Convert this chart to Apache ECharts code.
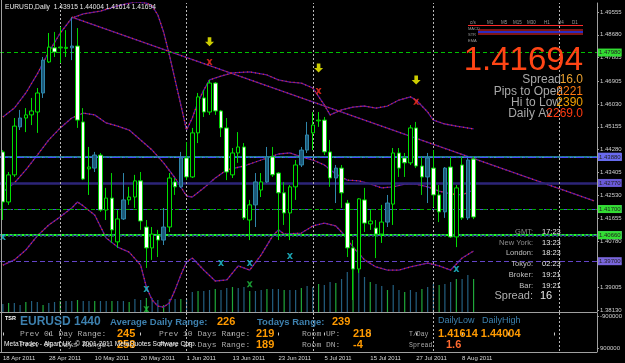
<!DOCTYPE html>
<html><head><meta charset="utf-8">
<script src="https://cdn.jsdelivr.net/npm/echarts@6/dist/echarts.min.js"></script>
<style>html,body{margin:0;padding:0;background:#000;}#c{width:625px;height:363px;}</style>
</head><body><div id="c"></div><script>
// ---------- DATA ----------
const dates = ['18 Apr 2011','19 Apr 2011','20 Apr 2011','21 Apr 2011','22 Apr 2011','25 Apr 2011','26 Apr 2011','27 Apr 2011','28 Apr 2011','29 Apr 2011',
'2 May 2011','3 May 2011','4 May 2011','5 May 2011','6 May 2011','9 May 2011','10 May 2011','11 May 2011','12 May 2011','13 May 2011','16 May 2011','17 May 2011','18 May 2011','19 May 2011','20 May 2011','23 May 2011','24 May 2011','25 May 2011','26 May 2011','27 May 2011','30 May 2011','31 May 2011',
'1 Jun 2011','2 Jun 2011','3 Jun 2011','6 Jun 2011','7 Jun 2011','8 Jun 2011','9 Jun 2011','10 Jun 2011','13 Jun 2011','14 Jun 2011','15 Jun 2011','16 Jun 2011','17 Jun 2011','20 Jun 2011','21 Jun 2011','22 Jun 2011','23 Jun 2011','24 Jun 2011','27 Jun 2011','28 Jun 2011','29 Jun 2011','30 Jun 2011',
'1 Jul 2011','4 Jul 2011','5 Jul 2011','6 Jul 2011','7 Jul 2011','8 Jul 2011','11 Jul 2011','12 Jul 2011','13 Jul 2011','14 Jul 2011','15 Jul 2011','18 Jul 2011','19 Jul 2011','20 Jul 2011','21 Jul 2011','22 Jul 2011','25 Jul 2011','26 Jul 2011','27 Jul 2011','28 Jul 2011','29 Jul 2011',
'1 Aug 2011','2 Aug 2011','3 Aug 2011','4 Aug 2011','5 Aug 2011','8 Aug 2011','9 Aug 2011','10 Aug 2011'];
const emptySlots = 21; // chart shift area to the right of the last bar

const openP  = [1.4419,1.4227,1.4331,1.4515,1.4549,1.4561,1.4572,1.4645,1.4764,1.4818,1.4818,1.4816,1.4818,1.4825,1.4534,1.4354,1.4357,1.4407,1.4196,1.4242,1.4074,1.4162,1.4235,1.4246,1.4308,1.4131,1.4051,1.4100,1.4081,1.4131,1.4304,1.4285,1.4396,1.4323,1.4492,1.4626,1.4572,1.4683,1.4576,1.4511,1.4331,1.4415,1.4438,1.4158,1.4216,1.4273,1.4304,1.4400,1.4338,1.4262,1.4185,1.4285,1.4369,1.4426,1.4492,1.4538,1.4541,1.4419,1.4319,1.4357,1.4223,1.4051,1.3970,1.4235,1.4143,1.4127,1.4104,1.4150,1.4219,1.4415,1.4396,1.4377,1.4511,1.4365,1.4323,1.4357,1.4254,1.4189,1.4361,1.4093,1.4369,1.4166,1.43915];
const closeP = [1.4227,1.4331,1.4518,1.4549,1.4561,1.4576,1.4645,1.4771,1.4821,1.4802,1.4821,1.4820,1.4825,1.4541,1.4315,1.4361,1.4407,1.4196,1.4242,1.4120,1.4162,1.4235,1.4246,1.4308,1.4154,1.4051,1.4104,1.4081,1.4131,1.4319,1.4285,1.4396,1.4323,1.4492,1.4630,1.4572,1.4683,1.4576,1.4511,1.4342,1.4415,1.4438,1.4166,1.4216,1.4304,1.4304,1.4400,1.4331,1.4262,1.4185,1.4285,1.4369,1.4426,1.4484,1.4522,1.4541,1.4419,1.4319,1.4357,1.4262,1.4051,1.3970,1.4239,1.4146,1.4154,1.4104,1.4150,1.4223,1.4415,1.4357,1.4377,1.4511,1.4365,1.4323,1.4396,1.4254,1.4189,1.4357,1.4093,1.4281,1.4166,1.4388,1.41694];
const lowP   = [1.4158,1.4216,1.4323,1.4503,1.4495,1.4522,1.4492,1.4626,1.4760,1.4783,1.4760,1.4783,1.4771,1.4511,1.4311,1.4254,1.4342,1.4189,1.4158,1.4070,1.4051,1.4158,1.4216,1.4204,1.4120,1.3974,1.4005,1.4016,1.4062,1.4112,1.4254,1.4281,1.4311,1.4319,1.4453,1.4553,1.4561,1.4561,1.4476,1.4311,1.4319,1.4377,1.4158,1.4081,1.4131,1.4246,1.4300,1.4323,1.4081,1.4139,1.4081,1.4235,1.4361,1.4415,1.4426,1.4515,1.4407,1.4285,1.4223,1.4204,1.4016,1.3851,1.3955,1.4112,1.4120,1.4012,1.4070,1.4131,1.4139,1.4323,1.4323,1.4369,1.4357,1.4254,1.4223,1.4208,1.4150,1.4166,1.4089,1.4054,1.4158,1.4158,1.41614];
const highP  = [1.4426,1.4342,1.4549,1.4580,1.4587,1.4626,1.4664,1.4783,1.4875,1.4879,1.4898,1.4886,1.4936,1.4894,1.4587,1.4438,1.4419,1.4415,1.4281,1.4338,1.4196,1.4338,1.4285,1.4331,1.4342,1.4158,1.4131,1.4120,1.4204,1.4338,1.4319,1.4419,1.4457,1.4511,1.4645,1.4656,1.4695,1.4687,1.4580,1.4549,1.4434,1.4495,1.4453,1.4235,1.4338,1.4338,1.4438,1.4438,1.4342,1.4304,1.4292,1.4388,1.4438,1.4534,1.4572,1.4572,1.4553,1.4465,1.4369,1.4369,1.4235,1.4081,1.4242,1.4281,1.4196,1.4158,1.4216,1.4254,1.4434,1.4434,1.4415,1.4522,1.4534,1.4400,1.4415,1.4426,1.4292,1.4361,1.4400,1.4292,1.4400,1.4396,1.44004];
const tealBars = [3,7,12,16,21,28,31,44,46,52,53,58,67,74,77,81];
const volumes = [8000,9000,9000,7000,10000,11000,10000,7000,9000,10000,11000,11000,11000,12000,11000,11000,11000,11000,11000,11000,11000,11000,10000,13000,12000,14000,14000,12000,7000,13000,13000,13000,13000,20000,21000,21000,22000,23000,22000,24000,25000,24000,25000,21000,21000,22000,23000,23000,23000,22000,22000,22000,
24000,26000,25000,28000,27000,30000,29000,33000,40000,45000,42000,35000,30000,28000,26000,
22000,27000,22000,20000,22000,20000,23000,25000,28000,27000,28000,30000,33000,33000,37000,33000];

const upperBand = [[0,1.4553],[2,1.4587],[4,1.4645],[6,1.4718],[8,1.4802],[10,1.4875],[12,1.4932],[14,1.4948],[17,1.4959],[20,1.4979],[23,1.4994],[25,1.4990],[26,1.4979],[27,1.4944],[28,1.4879],[29,1.4791],[30,1.4695],[31,1.4599],[32,1.4503],[33,1.4549],[34,1.4611],[35,1.4656],[36,1.4695],[38,1.4710],[40,1.4722],[43,1.4726],[46,1.4714],[48,1.4695],[50,1.4687],[52,1.4683],[54,1.4664],[56,1.4599],[57,1.4561],[59,1.4580],[61,1.4591],[63,1.4595],[65,1.4587],[67,1.4595],[69,1.4618],[71,1.4630],[72,1.4618],[74,1.4572],[75,1.4541],[77,1.4526],[79,1.4518],[82,1.4507]];
const midBand = [[0,1.4265],[2,1.4300],[4,1.4350],[6,1.4407],[8,1.4465],[10,1.4511],[12,1.4549],[14,1.4568],[16,1.4561],[18,1.4530],[20,1.4518],[22,1.4503],[24,1.4465],[26,1.4426],[28,1.4377],[30,1.4319],[32,1.4250],[33,1.4246],[35,1.4281],[37,1.4319],[39,1.4350],[42,1.4365],[45,1.4388],[48,1.4411],[50,1.4415],[52,1.4400],[54,1.4388],[56,1.4369],[58,1.4334],[60,1.4311],[62,1.4308],[64,1.4296],[66,1.4281],[68,1.4285],[70,1.4296],[72,1.4296],[74,1.4285],[76,1.4269],[78,1.4258],[80,1.4254],[82,1.4273]];
const lowerBand = [[0,1.3985],[2,1.4005],[4,1.4043],[6,1.4097],[8,1.4139],[10,1.4170],[12,1.4204],[13,1.4227],[14,1.4212],[16,1.4177],[18,1.4089],[20,1.4054],[22,1.4035],[24,1.3985],[25,1.3901],[26,1.3851],[27,1.3828],[28,1.3824],[29,1.3840],[30,1.3890],[31,1.3947],[32,1.3997],[33,1.4012],[35,1.3966],[37,1.3924],[39,1.3928],[41,1.3982],[43,1.3966],[45,1.4024],[47,1.4097],[48,1.4120],[49,1.4104],[52,1.4108],[54,1.4135],[56,1.4146],[58,1.4135],[59,1.4112],[61,1.4054],[63,1.4005],[65,1.3978],[67,1.3966],[69,1.3966],[71,1.3978],[74,1.3993],[76,1.3982],[78,1.3966],[80,1.4012],[82,1.4039]];
const trendLine = [[12,1.4936],[103,1.4231]];
const fractalArrows = [[36,1.4841],[55,1.4741],[72,1.4695]];
const fractalMarks = [[36,1.4764],[55,1.4653],[72,1.4611]];
const cyanMarks = [[0,1.4093],[25,1.3893],[38,1.3993],[43,1.3993],[50,1.4020],[79,1.3970]];
const greenMarks = [[25,1.3816],[43,1.3912]];
const monthStarts = [10,32,54,75,97];
const levelPrices = [1.4798,1.4434,1.4411,1.4403,1.4388,1.4277,1.4246,1.4170,1.4127,1.4081,1.4066,1.3970];
const priceTicks = [1.49555,1.48680,1.47805,1.46905,1.46030,1.45155,1.44280,1.43405,1.42530,1.41655,1.40780,1.39905,1.39005,1.38130];
const tsrTicks = [-900000,900000];

const header = 'EURUSD,Daily  1.43915 1.44004 1.41614 1.41694';
const lastPrice = '1.41694';
const infoLabels = ['Spread','Pips to Open','Hi to Low','Daily Av'];
const infoValues = ['16.0','2221','2390','2269.0'];
const clockLabels = ['GMT:','New York:','London:','Tokyo:','Broker:','Bar:'];
const clockValues = ['17:23','13:23','18:23','02:23','19:21','19:21'];
const spreadValue = '16';
const mtfHeads = ['c/s','M1','M5','M15','M30','H1','H4','D1'];
const mtfRows = ['MACD','STR','EMA'];

// ---------- STYLES ----------
const levelStyles = [
 {color:'#00c000',width:1,type:[4,3]},
 {color:'#9050d0',width:1,type:[6,4]},
 {color:'#30a8c8',width:1.5,type:'solid'},
 {color:'#207888',width:2,type:[2,2]},
 {color:'#4a4aff',width:1,type:[8,3,2,3]},
 {color:'#2c2478',width:2.5,type:'solid'},
 {color:'#5a48d8',width:1,type:[8,3,2,3]},
 {color:'#00a800',width:1,type:[4,3]},
 {color:'#20ff20',width:2,type:'solid'},
 {color:'#5a44d8',width:1,type:[5,3]},
 {color:'#1d6464',width:2.5,type:[2,2]},
 {color:'#6444c8',width:1,type:[5,3]}
];
const levelBoxes = [ '#33dd33', '#9a66dd', '#4a7ae0', null, '#6a6af0', '#6a5ad8', '#6a5ad8', '#33dd33', '#33dd33', '#6a5ad8', '#33dd33', '#7a66dd'];

const xCats = dates.concat(new Array(emptySlots).fill(''));
const candleData = openP.map((o,i)=>{
  const item = {value:[o, closeP[i], lowP[i], highP[i]]};
  if (tealBars.indexOf(i) >= 0) item.itemStyle = {color:'#1c5878', borderColor:'#2f86aa'};
  return item;
});
const volData = volumes.map((v,i)=>({value:v, itemStyle:{color: (i%3===1) ? '#1fa83a' : '#235f80'}}));

function bandSeries(data){
  return [
    {type:'line', xAxisIndex:0, yAxisIndex:0, data, symbol:'none', lineStyle:{color:'#5416a4', width:1.3}, z:3, silent:true},
    {type:'line', xAxisIndex:0, yAxisIndex:0, data, symbol:'none', lineStyle:{color:'#ff3a10', width:1.2, type:[1,3]}, z:4, silent:true}
  ];
}
const crossPath = 'path://M0,0L3,0L5,2.5L7,0L10,0L6.5,5L10,10L7,10L5,7.5L3,10L0,10L3.5,5Z';
const arrowPath = 'path://M3,0L7,0L7,5L10,5L5,10L0,5L3,5Z';

const F = 'Liberation Sans, Arial, sans-serif';
const M = 'Liberation Mono, Courier New, monospace';
const graphics = [];
function txt(x,y,text,fill,font,align){ graphics.push({type:'text', x, y, silent:true, z:100, style:{text, fill, font, textAlign: align||'left', textVerticalAlign:'middle'}}); }
function hl(x1,x2,y,stroke,w){ graphics.push({type:'line', silent:true, z:90, shape:{x1,y1:y,x2,y2:y}, style:{stroke, lineWidth:w||1}}); }
function vl(x,y1,y2,stroke,w){ graphics.push({type:'line', silent:true, z:90, shape:{x1:x,y1,x2:x,y2}, style:{stroke, lineWidth:w||1}}); }

// frame
vl(1.5,0,352,'#a0a0a0',1);
hl(0,597,312.5,'#a0a0a0',1);
hl(0,597,352.5,'#a0a0a0',1);
// header
txt(5,7.5,header,'#e8e8e8','6.7px '+F);
// MTF panel
const mtfX = [470,487,501,513,527,544,558,572];
mtfHeads.forEach((h,i)=>txt(mtfX[i],23,h,'#9a9a9a','4.5px '+F));
mtfRows.forEach((r,i)=>txt(468,[29,35,41][i],r,'#9a9a9a','4px '+F));
hl(468,583,25.5,'#ff2a2a',1);
hl(478,583,30,'#ff2a2a',1);
hl(478,583,32,'#3a3aff',1.5);
hl(478,583,34,'#ff2a2a',1);
// big price & info
txt(583,61,lastPrice,'#ff4515','33px '+F,'right');
const infoY = [80,92,103,114];
const infoLabelRight = [561,563,561,552];
const infoColors = ['#eaa030','#ff7a10','#f0a000','#ff3a10'];
infoLabels.forEach((l,i)=>txt(infoLabelRight[i],infoY[i],l,'#a8a8a8','12px '+F,'right'));
infoValues.forEach((v,i)=>txt(583,infoY[i],v,infoColors[i],'12px '+F,'right'));
// clock panel
const clockY = [232,243,253,264,275,286];
clockLabels.forEach((l,i)=>txt(533,clockY[i],l,i<2?'#8c8c8c':'#c0c0c0','7.5px '+F,'right'));
clockValues.forEach((v,i)=>txt(542,clockY[i],v,'#e6e6e6','7.5px '+F));
txt(533,296,'Spread:','#b0b0b0','11px '+F,'right');
txt(540,296,spreadValue,'#e6e6e6','11px '+F);
// TSR panel
const steel = '#3d80ae', orange = '#ff9a00', gray = '#a8a8a8';
txt(5,318,'TSR','#ffffff','bold 5.5px '+F);
txt(20,322,'EURUSD 1440',steel,'bold 12px '+F);
txt(110,322,'Average Daily Range:',steel,'bold 9.5px '+F);
txt(217,322,'226',orange,'bold 11px '+F);
txt(257,322,'Todays Range:',steel,'bold 9.5px '+F);
txt(332,322,'239',orange,'bold 11px '+F);
txt(20,334,'Prev 01 Day Range:',gray,'8px '+M);
txt(117,334,'245',orange,'bold 11px '+F);
txt(159,334,'Prev 10 Days Range:',gray,'8px '+M);
txt(256,334,'219',orange,'bold 11px '+F);
txt(302,334,'Room UP:',gray,'8px '+M);
txt(353,334,'218',orange,'bold 11px '+F);
txt(20,345,'Prev 05 Days Range:',gray,'8px '+M);
txt(117,345,'258',orange,'bold 11px '+F);
txt(159,345,'Prev 20 Days Range:',gray,'8px '+M);
txt(256,345,'189',orange,'bold 11px '+F);
txt(302,345,'Room DN:',gray,'8px '+M);
txt(353,345,'-4',orange,'bold 11px '+F);
txt(438,321,'DailyLow',steel,'9px '+F);
txt(482,321,'DailyHigh',steel,'9px '+F);
txt(409,334,'T/Day',gray,'6.5px '+M);
txt(438,334,'1.41614 1.44004',orange,'bold 11px '+F);
txt(409,345,'Spread',gray,'6.5px '+M);
txt(446,345,'1.6','#ff6a30','bold 11px '+F);
txt(4,344,'MetaTrader - Alpari UK, \u00a9 2001-2011 MetaQuotes Software Corp.','#f0f0f0','6.6px '+F);

const chart = echarts.init(document.getElementById('c'), null, {renderer:'canvas'});
chart.setOption({
  backgroundColor:'#000000',
  animation:false,
  grid:[{left:-1,right:28,top:3,height:309},{left:-1,right:28,top:313,height:39}],
  xAxis:[
    {type:'category', gridIndex:0, data:xCats, boundaryGap:true, axisLine:{show:false}, axisTick:{show:false}, axisLabel:{show:false}, splitLine:{show:false}},
    {type:'category', gridIndex:1, data:xCats, boundaryGap:true, axisLine:{show:false},
     axisTick:{show:true, interval:7, alignWithLabel:true, length:3, lineStyle:{color:'#c8c8c8'}},
     axisLabel:{interval:7, align:'left', color:'#d8d8d8', fontSize:6, fontFamily:F, margin:3}, splitLine:{show:false}}
  ],
  yAxis:[
    {type:'value', gridIndex:0, position:'right', min:1.38052, max:1.49900, scale:true, splitLine:{show:false},
     axisLine:{show:true, lineStyle:{color:'#a0a0a0'}},
     axisTick:{show:true, customValues:priceTicks, length:2, lineStyle:{color:'#a0a0a0'}},
     axisLabel:{customValues:priceTicks, formatter:v=>v.toFixed(5), color:'#cfcfcf', fontSize:6, fontFamily:F, margin:3}},
    {type:'value', gridIndex:0, min:0, max:309000, show:false},
    {type:'value', gridIndex:1, position:'right', inverse:true, min:-1100000, max:1100000, splitLine:{show:false},
     axisLine:{show:true, lineStyle:{color:'#a0a0a0'}},
     axisTick:{show:true, customValues:tsrTicks, length:2, lineStyle:{color:'#a0a0a0'}},
     axisLabel:{customValues:tsrTicks, formatter:v=>String(v), color:'#cfcfcf', fontSize:6, fontFamily:F, margin:3}}
  ],
  series:[
    {type:'bar', xAxisIndex:0, yAxisIndex:1, data:volData, barWidth:1.2, z:1, silent:true},
    {type:'candlestick', xAxisIndex:0, yAxisIndex:0, data:candleData, barWidth:4, z:5, silent:true,
     itemStyle:{color:'#000000', color0:'#ffffff', borderColor:'#00e000', borderColor0:'#00d000', borderWidth:1},
     markLine:{silent:true, symbol:'none', animation:false,
       data: levelPrices.map((p,i)=>({yAxis:p, lineStyle:levelStyles[i],
         label: levelBoxes[i] ? {show:true, position:'end', distance:1, formatter:p.toFixed(5), color:'#202020', fontSize:6, fontFamily:F, backgroundColor:levelBoxes[i], padding:[1,1,1,1]} : {show:false}}))
         .concat(monthStarts.map(m=>({xAxis:m, lineStyle:{color:'#b8b8b8', width:1, type:[2,2]}, label:{show:false}})))
     }},
    {type:'line', xAxisIndex:1, yAxisIndex:2, data:[], symbol:'none',
     markLine:{silent:true, symbol:'none', animation:false, data: monthStarts.map(m=>({xAxis:m, lineStyle:{color:'#b8b8b8', width:1, type:[2,2]}, label:{show:false}}))}},
    ...bandSeries(upperBand), ...bandSeries(midBand), ...bandSeries(lowerBand), ...bandSeries(trendLine),
    {type:'scatter', xAxisIndex:0, yAxisIndex:0, data:fractalArrows, symbol:arrowPath, symbolSize:[9,9], itemStyle:{color:'#ffff00'}, z:8, silent:true},
    {type:'scatter', xAxisIndex:0, yAxisIndex:0, data:fractalMarks, symbol:crossPath, symbolSize:6, itemStyle:{color:'#ff3020'}, z:8, silent:true},
    {type:'scatter', xAxisIndex:0, yAxisIndex:0, data:cyanMarks, symbol:crossPath, symbolSize:6, itemStyle:{color:'#20c8d8'}, z:8, silent:true},
    {type:'scatter', xAxisIndex:0, yAxisIndex:0, data:greenMarks, symbol:crossPath, symbolSize:6, itemStyle:{color:'#20c040'}, z:8, silent:true}
  ],
  graphic: graphics
});
</script></body></html>
